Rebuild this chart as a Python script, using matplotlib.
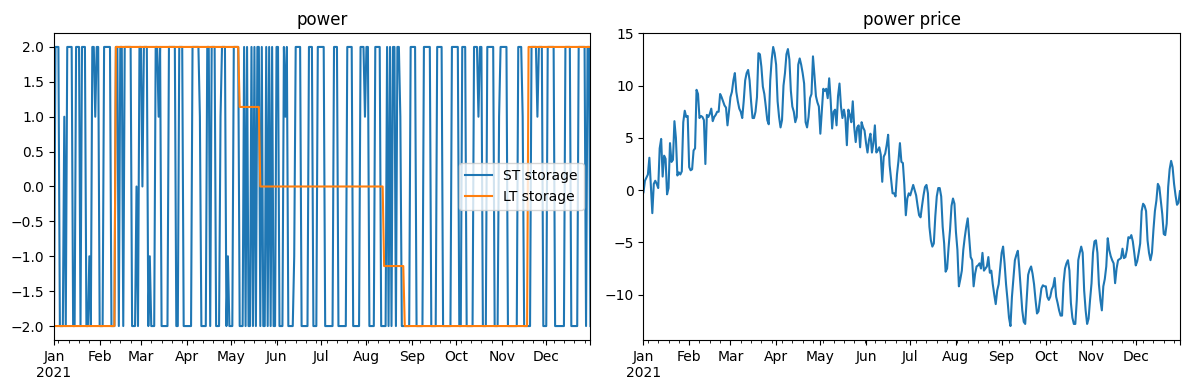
import numpy as np
import pandas as pd
import matplotlib
matplotlib.use("Agg")
import matplotlib.pyplot as plt

# ---------------- data ----------------
dates = pd.date_range("2021-01-01", "2021-12-31", freq="D")

# ST storage: (start day index, value) segments
st_starts = [0, 1, 4, 7, 8, 9, 13, 15, 18, 19, 22, 24, 25, 26, 28, 29, 31, 34, 39, 42,
             44, 45, 47, 48, 53, 56, 57, 58, 60, 61, 64, 65, 66, 69, 71, 72, 73, 78, 83, 85,
             88, 94, 99, 100, 104, 106, 107, 110, 113, 114, 117, 118, 119, 122, 126,
             129, 130, 131, 132, 134, 135, 136, 137, 138, 140, 141, 142, 144, 145, 146, 147,
             148, 149, 151, 153, 156, 157, 158, 159, 163, 164, 168, 173, 176, 179, 184, 190,
             193, 199, 203, 208, 211, 212, 214, 218, 222, 226, 227, 228, 229, 230, 232, 233,
             235, 236, 242, 246, 251, 256, 260, 264, 270, 275, 277, 280, 285, 288, 289, 291,
             294, 299, 302, 303, 308, 315, 318, 319, 324, 328, 329, 332, 335, 340, 347, 351,
             356, 361, 362, 364]
st_vals = [-2, 2, -2, 1, -2, 2, -2, 2, -2, 2, -2, -1, -2, 2, 1, 2, -2, 2, -2, 2,
           -2, 2, -2, 2, -2, 0, -2, 2, 0, 2, -2, -1, -2, 2, 1, 2, -2, 2, -2, 2,
           -2, 2, 1, -2, 2, -2, 2, -2, 1, 2, -2, -1, -2, 2, -2,
           2, -2, 2, -2, 2, -2, 2, -2, 2, -2, 2, -2, 2, -2, 2, -2,
           2, -2, 2, -2, 2, 1, 2, -2, -1, 2, -2, 2, -2, 2, -2, 2,
           -2, 2, -2, 2, 1, 2, -2, 2, -2, 2, -2, 2, -2, 2, -2, 2,
           1, -2, 2, -2, 2, -2, 2, -2, 2, -2, 2, -2, 2, 1, 2, -2,
           2, -2, 1, 2, -2, 2, 1, -2, 2, 1, 2, -2, 2, -2, 2, -2,
           2, -2, 2, -2]

# LT storage: (start day index, value) segments
lt_starts = [0, 42, 126, 140, 224, 238, 322]
lt_vals = [-2, 2, 1.14, 0, -1.14, -2, 2]

# power price, daily values per month
price_jan = [-0.2, 0.9, 1.2, 1.5, 3.1, 0.5, -2.2, 0.6, 0.9, 0.6, 0.2, 4.0, 4.9, 1.3, 3.3, 3.0,
             -0.4, 0.2, 4.5, 2.7, 2.9, 6.6, 5.0, 1.4, 1.7, 1.5, 1.8, 6.5, 7.6, 7.0, 7.1]
price_feb = [2.2, 1.9, 2.0, 3.8, 4.0, 9.6, 9.2, 6.9, 7.1, 7.0, 6.7, 2.5, 7.2, 7.0, 7.3, 7.8,
             6.6, 7.0, 7.2, 7.5, 7.5, 9.2, 8.9, 8.5, 8.1, 7.9, 6.2, 7.5]
price_mar = [8.9, 9.4, 10.5, 11.2, 9.4, 8.5, 7.8, 7.5, 6.9, 8.5, 10.5, 11.2, 11.5, 10.5, 8.5,
             6.9, 6.9, 7.5, 8.9, 13.1, 13.0, 11.8, 9.9, 9.2, 8.0, 6.7, 6.3, 10.5, 12.5, 13.7, 13.1]
price_apr = [12.0, 8.5, 7.0, 6.0, 6.7, 10.0, 11.2, 13.0, 13.5, 12.5, 9.5, 8.0, 7.5, 6.5, 7.0,
             12.0, 12.6, 12.0, 11.2, 10.2, 6.5, 6.0, 7.0, 8.8, 9.2, 12.8, 11.0, 9.0, 8.4, 8.0]
price_may = [5.4, 7.5, 9.7, 9.5, 9.7, 8.8, 10.7, 8.6, 5.9, 7.5, 7.7, 6.2, 9.0, 10.2, 8.0, 6.9,
             7.7, 6.9, 4.3, 7.7, 7.2, 6.5, 8.5, 6.0, 4.6, 6.0, 6.2, 4.1, 6.5, 6.0, 5.7]
price_jun = [4.5, 3.6, 4.8, 5.4, 3.6, 4.5, 6.2, 3.6, 3.8, 4.1, 3.4, 0.8, 3.2, 3.5, 4.3, 5.3,
             2.4, 1.0, -0.3, -0.3, -0.6, 1.5, 2.8, 4.5, 2.7, 2.6, 0.5, -2.4, -0.8, -0.3]
price_jul = [-0.5, 0.0, 0.5, 0.0, -0.5, -1.5, -2.4, -2.6, -1.5, -0.5, 0.3, 0.5, -0.3, -3.5,
             -4.8, -5.4, -5.1, -2.5, -0.6, 0.2, 0.2, -0.6, -3.5, -5.1, -7.8, -7.5, -5.5, -3.8,
             -1.5, -0.8, -1.3]
price_aug = [-4.0, -5.7, -9.2, -8.5, -7.7, -5.7, -4.5, -3.5, -2.7, -4.5, -6.4, -6.7, -9.2,
             -8.0, -7.3, -7.2, -7.0, -7.5, -6.0, -7.7, -7.5, -7.3, -6.4, -7.9, -7.7, -9.0,
             -10.0, -10.9, -9.6, -9.0, -7.5]
price_sep = [-6.0, -5.4, -7.0, -9.0, -10.5, -12.2, -13.0, -10.2, -8.5, -6.7, -6.2, -5.8, -7.5,
             -9.5, -11.5, -12.6, -12.8, -10.5, -8.1, -7.6, -7.3, -8.0, -9.0, -10.5, -11.8,
             -11.6, -10.5, -9.4, -9.1, -9.2]
price_oct = [-9.2, -10.2, -10.5, -10.2, -9.5, -9.2, -8.4, -10.2, -10.8, -11.5, -12.0, -12.0,
             -8.9, -7.5, -7.0, -6.7, -7.7, -10.8, -12.2, -12.8, -12.8, -10.5, -6.7, -6.0, -5.4,
             -6.0, -9.6, -11.5, -12.8, -12.3, -10.5]
price_nov = [-8.9, -6.0, -4.9, -4.8, -6.0, -9.0, -10.5, -11.5, -9.2, -8.5, -7.3, -4.6, -5.7,
             -6.3, -6.7, -7.0, -8.9, -7.5, -6.7, -6.6, -6.5, -5.6, -6.5, -6.4, -5.7, -4.5,
             -4.6, -4.3, -4.9, -6.0]
price_dec = [-7.2, -6.8, -6.0, -5.1, -2.0, -1.3, -1.5, -2.0, -4.8, -6.0, -6.7, -6.0, -3.8,
             -2.0, -1.0, 0.6, 0.3, -1.0, -2.3, -4.2, -4.3, -3.2, 0.3, 2.0, 2.8, 2.2, 0.6, -0.5,
             -1.4, -1.2, -0.1]

# ---------------- build series ----------------
n = len(dates)


def expand(starts, vals, n):
    lengths = np.diff(list(starts) + [n])
    return np.repeat(vals, lengths)


st = expand(st_starts, st_vals, n)
lt = expand(lt_starts, lt_vals, n)
price_all = (price_jan + price_feb + price_mar + price_apr + price_may + price_jun +
             price_jul + price_aug + price_sep + price_oct + price_nov + price_dec)
price_all = (price_all + [price_all[-1]] * n)[:n]

power = pd.DataFrame({"ST storage": st, "LT storage": lt}, index=dates)
price = pd.Series(price_all, index=dates, name="power price")

# ---------------- plot ----------------
fig, (ax1, ax2) = plt.subplots(1, 2, figsize=(11.89, 3.9), dpi=100)
power.plot(ax=ax1, title="power")
ax1.legend(loc="center right")
price.plot(ax=ax2, title="power price")
fig.subplots_adjust(left=0.0454, right=0.9924, top=0.9154, bottom=0.1282, wspace=0.0988)
fig.savefig("out.png", dpi=100)
